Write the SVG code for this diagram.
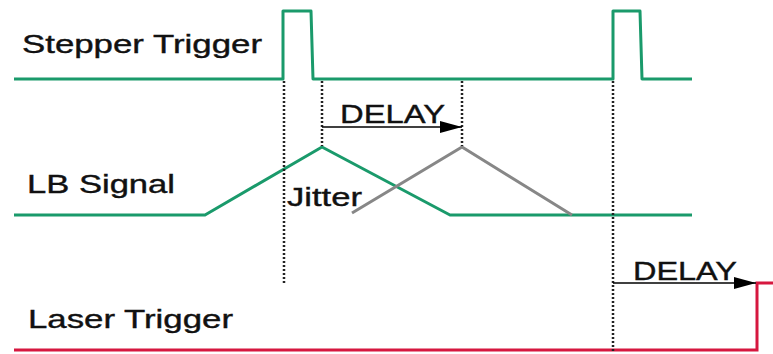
<svg xmlns="http://www.w3.org/2000/svg" width="773" height="354" viewBox="0 0 773 354">
<style>
.lbl{font-family:"Liberation Sans",Arial,sans-serif;font-size:26px;fill:#111;stroke:#111;stroke-width:0.4}
.g{fill:none;stroke:#1a9a6b;stroke-width:3;stroke-linejoin:round}
.gr{fill:none;stroke:#878787;stroke-width:3}
.r{fill:none;stroke:#d6173f;stroke-width:3}
.dot{fill:none;stroke:#222;stroke-width:2.5;stroke-dasharray:2 2}
.arr{fill:none;stroke:#000;stroke-width:1.5}
</style>
<defs>
<marker id="ah2" markerWidth="22" markerHeight="12" refX="22" refY="6" orient="auto" markerUnits="userSpaceOnUse" viewBox="0 0 22 12">
<path d="M0,0 L22,6 L0,12 Z" fill="#000"/>
</marker>
</defs>
<g id="stepper-trigger">
<text class="lbl" x="22" y="53" textLength="240" lengthAdjust="spacingAndGlyphs">Stepper Trigger</text>
<path class="g" d="M14,79 H283 V11 H311 L313,79 H613 V11 H640 L642,79 H692"/>
</g>
<g id="lb-signal">
<text class="lbl" x="27" y="193" textLength="148" lengthAdjust="spacingAndGlyphs">LB Signal</text>
<path class="g" d="M14,215 H205 L322,147 L450,215 H692"/>
</g>
<g id="lb-delayed">
<path class="gr" d="M352,213 L462,147 L572,215"/>
</g>
<g id="jitter">
<text class="lbl" x="287" y="206" textLength="75" lengthAdjust="spacingAndGlyphs">Jitter</text>
</g>
<g id="laser-trigger">
<text class="lbl" x="28" y="328" textLength="205" lengthAdjust="spacingAndGlyphs">Laser Trigger</text>
<path class="r" d="M14,350 H757 V283 H773"/>
</g>
<g id="connectors">
<line class="dot" x1="284" y1="81" x2="284" y2="284"/>
<line class="dot" x1="322" y1="81" x2="322" y2="146"/>
<line class="dot" x1="462" y1="81" x2="462" y2="146"/>
<line class="dot" x1="613" y1="81" x2="613" y2="352"/>
<line class="arr" x1="322" y1="127" x2="462" y2="127" marker-end="url(#ah2)"/>
<text class="lbl" x="340" y="123" textLength="105" lengthAdjust="spacingAndGlyphs">DELAY</text>
<line class="arr" x1="613" y1="283" x2="756" y2="283" marker-end="url(#ah2)"/>
<text class="lbl" x="633" y="280" textLength="104" lengthAdjust="spacingAndGlyphs">DELAY</text>
</g>
</svg>
